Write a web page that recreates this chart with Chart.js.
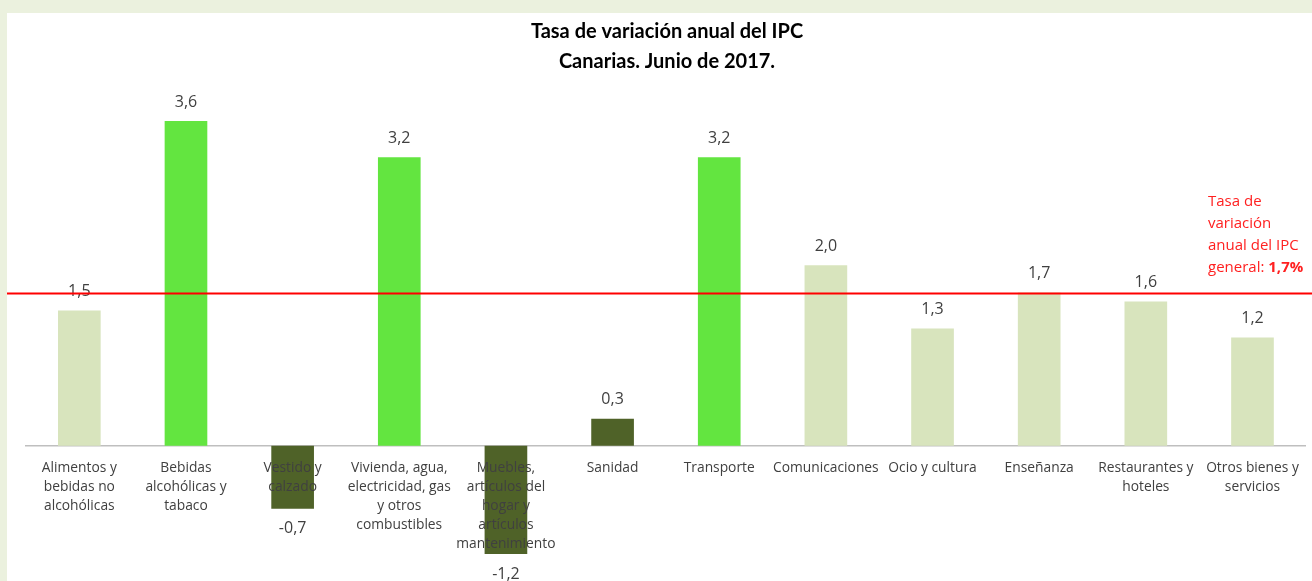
<!DOCTYPE html>
<html>
<head>
<meta charset="utf-8">
<script src="https://cdn.jsdelivr.net/npm/chart.js@4/dist/chart.umd.min.js"></script>
<style>
  html, body { margin: 0; padding: 0; }
  body { background: #ebf1de; width: 1312px; height: 581px; overflow: hidden; position: relative; }
  #box { position: absolute; left: 7px; top: 13px; width: 1305px; height: 568px; background: #fff; }
</style>
</head>
<body>
<div id="box"><canvas id="chart"></canvas></div>
<script>
//---data---
var categories = [
  ['Alimentos y', 'bebidas no', 'alcohólicas'],
  ['Bebidas', 'alcohólicas y', 'tabaco'],
  ['Vestido y', 'calzado'],
  ['Vivienda, agua,', 'electricidad, gas', 'y otros', 'combustibles'],
  ['Muebles,', 'artículos del', 'hogar y', 'artículos', 'mantenimiento'],
  'Sanidad',
  'Transporte',
  'Comunicaciones',
  'Ocio y cultura',
  'Enseñanza',
  ['Restaurantes y', 'hoteles'],
  ['Otros bienes y', 'servicios']
];
var rates = [1.5, 3.6, -0.7, 3.2, -1.2, 0.3, 3.2, 2.0, 1.3, 1.7, 1.6, 1.2];
var generalRate = 1.7;
var titleLines = ['Tasa de variación anual del IPC', 'Canarias. Junio de 2017.'];
var noteLines = ['Tasa de', 'variación', 'anual del IPC', 'general: '];

//---styles---
var LIGHT = '#d8e4bd', BRIGHT = '#63e540', DARK = '#4f6228';
var barColors = [LIGHT, BRIGHT, DARK, BRIGHT, DARK, DARK, BRIGHT, LIGHT, LIGHT, LIGHT, LIGHT, LIGHT];

function fmt(v) { return v.toFixed(1).replace('.', ','); }

//---plugin: value labels, general rate line and note---
const extras = {
  id: 'extras',
  afterDatasetsDraw(chart) {
    const ctx = chart.ctx;
    const y = chart.scales.y;
    const meta = chart.getDatasetMeta(0);
    ctx.save();
    ctx.font = '16px "Open Sans"';
    ctx.fillStyle = '#404040';
    ctx.textAlign = 'center';
    ctx.textBaseline = 'middle';
    meta.data.forEach((bar, i) => {
      const v = rates[i];
      const ty = v >= 0 ? bar.y - 19 : bar.y + 20;
      ctx.fillText(fmt(v), bar.x, ty);
    });

    // general rate line
    const ly = y.getPixelForValue(generalRate);
    ctx.strokeStyle = '#ff0000';
    ctx.lineWidth = 2;
    ctx.beginPath();
    ctx.moveTo(0, ly + 1);
    ctx.lineTo(chart.width, ly + 1);
    ctx.stroke();

    // note
    ctx.textAlign = 'left';
    ctx.fillStyle = '#ff2020';
    ctx.font = '15px "Open Sans"';
    const nx = 1201;
    noteLines.forEach((t, i) => {
      ctx.fillText(t, nx, ly - 91 + i * 22);
    });
    const w = ctx.measureText(noteLines[3]).width;
    ctx.font = 'bold 15px "Open Sans"';
    ctx.fillText(fmt(generalRate) + '%', nx + w, ly - 91 + 3 * 22);
    ctx.restore();
  }
};

new Chart(document.getElementById('chart'), {
  type: 'bar',
  data: {
    labels: categories,
    datasets: [{
      data: rates,
      backgroundColor: barColors,
      categoryPercentage: 1,
      barPercentage: 0.4
    }]
  },
  options: {
    responsive: true,
    maintainAspectRatio: false,
    animation: false,
    layout: { padding: { left: 19, right: 4, top: 0, bottom: 0 } },
    plugins: {
      legend: { display: false },
      tooltip: { enabled: false },
      title: {
        display: true,
        text: titleLines,
        color: '#000',
        font: { family: 'Lato', size: 20, weight: '700', lineHeight: 1.5 },
        padding: { top: 4, bottom: 8 }
      }
    },
    scales: {
      x: {
        position: { y: 0 },
        grid: { display: true, color: 'transparent', drawTicks: false },
        border: { display: true, color: '#bfbfbf', width: 1.5 },
        ticks: {
          z: 1,
          autoSkip: false,
          maxRotation: 0,
          padding: 13,
          color: '#404040',
          font: { family: '"Open Sans"', size: 13.8, lineHeight: 1.38 }
        }
      },
      y: {
        display: false,
        min: -1.5,
        max: 4
      }
    }
  },
  plugins: [extras]
});
</script>
</body>
</html>
